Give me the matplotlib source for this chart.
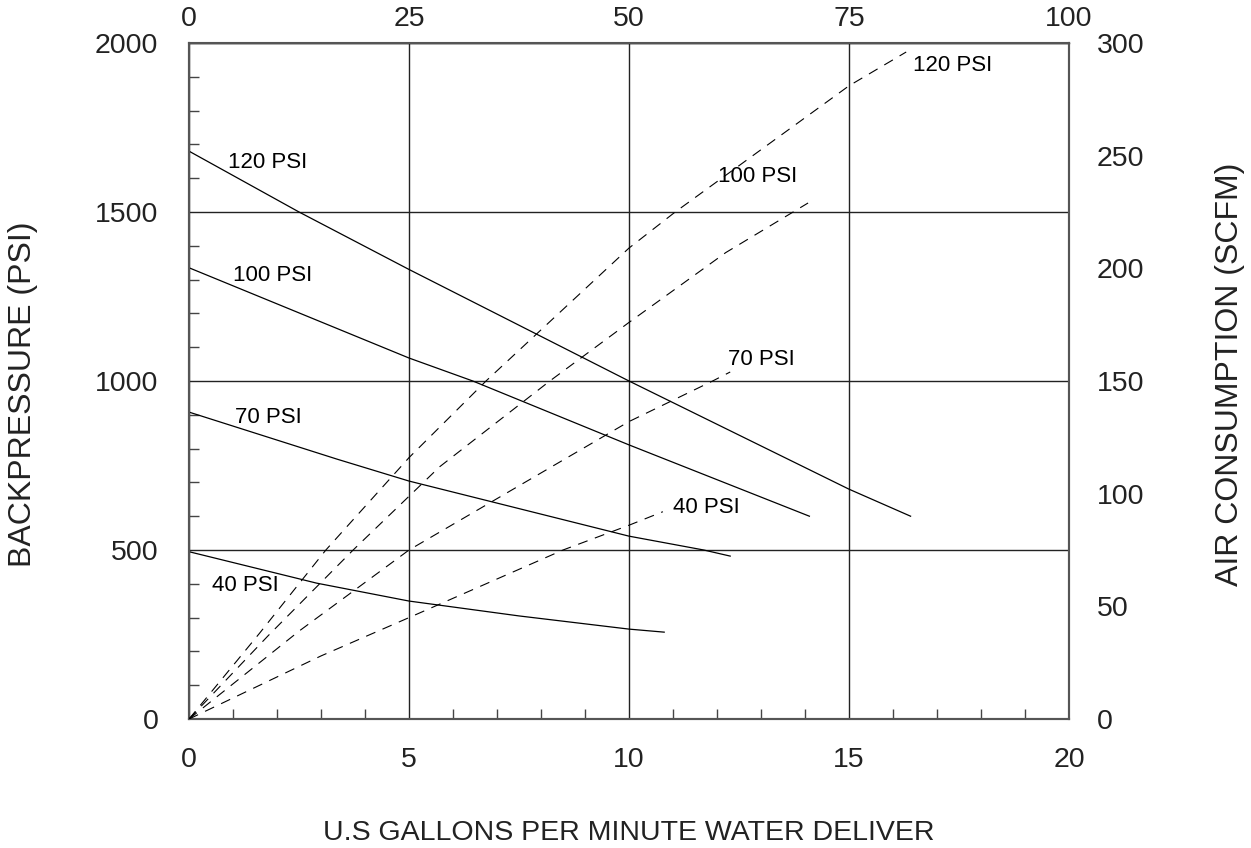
import matplotlib
matplotlib.use("Agg")
import matplotlib.pyplot as plt
from matplotlib.ticker import MultipleLocator

plt.rcParams['font.family'] = ['Liberation Sans', 'DejaVu Sans']

# Courbes de contre-pression (PSI) en fonction du débit (GPM)
bp_labels = ["120 PSI", "100 PSI", "70 PSI", "40 PSI"]
bp_gpm = [
    [0, 2.5, 5, 10, 15, 16.4],
    [0, 5, 6.45, 10, 14.1],
    [0, 3.36, 5, 10, 11.7, 12.3],
    [0, 2.9, 5, 7.5, 10, 10.8],
]
bp_psi = [
    [1680, 1500, 1330, 1000, 680, 600],
    [1335, 1068, 1000, 811, 600],
    [908, 769, 704, 541, 500, 482],
    [495, 402, 349, 305, 266, 257],
]

# Courbes de consommation d'air (SCFM) en fonction du débit (GPM)
air_labels = ["120 PSI", "100 PSI", "70 PSI", "40 PSI"]
air_gpm = [
    [0, 1.6, 3.11, 5, 6.75, 10, 11.05, 15, 16.3],
    [0, 1.8, 3.73, 5.7, 8.2, 10, 12.2, 14.07],
    [0, 2.5, 5, 10, 11.9, 12.3],
    [0, 3, 5, 8.5, 10, 10.77],
]
air_scfm = [
    [0, 38, 75, 116, 150, 209, 225, 281, 296],
    [0, 37, 75, 112, 150, 176, 207, 229],
    [0, 39, 75, 132, 150, 154],
    [0, 28, 45, 75, 86, 92],
]

# Positions des étiquettes (gpm, psi)
bp_label_pos = [(0.89, 1645), (1.0, 1311), (1.05, 893), (0.52, 396)]
air_label_pos = [(16.45, 1932), (12.02, 1604), (12.25, 1065), (11.0, 627)]

fig = plt.figure(figsize=(12.51, 8.48), dpi=100)
ax = fig.add_axes([0.1511, 0.1521, 0.7034, 0.7972])

for g, p in zip(bp_gpm, bp_psi):
    ax.plot(g, p, color='black', linewidth=0.9, zorder=3)

ax2 = ax.twinx()
for g, s in zip(air_gpm, air_scfm):
    ax2.plot(g, s, color='black', linewidth=0.8, linestyle=(0, (9, 7)), zorder=3)

for (x, y), t in zip(bp_label_pos, bp_labels):
    ax.text(x, y, t, fontsize=16, ha='left', va='center', zorder=4)
for (x, y), t in zip(air_label_pos, air_labels):
    ax.text(x, y, t, fontsize=16, ha='left', va='center', zorder=4)

ax.set_xlim(0, 20)
ax.set_ylim(0, 2000)
ax2.set_ylim(0, 300)

ax.set_xticks([0, 5, 10, 15, 20])
ax.set_yticks([0, 500, 1000, 1500, 2000])
ax.xaxis.set_minor_locator(MultipleLocator(1))
ax.yaxis.set_minor_locator(MultipleLocator(100))
ax.tick_params(axis='both', which='major', direction='in', length=0,
               labelsize=20.5, colors='#222222')
ax.tick_params(axis='x', which='major', pad=20)
ax.tick_params(axis='y', which='major', pad=22)
ax.tick_params(axis='both', which='minor', direction='in', length=7,
               width=1, color='#444444')

ax2.set_yticks([0, 50, 100, 150, 200, 250, 300])
ax2.tick_params(axis='y', length=0, labelsize=20.5, pad=20, colors='#222222')

top = ax.secondary_xaxis('top', functions=(lambda v: v * 5, lambda v: v / 5))
top.set_xticks([0, 25, 50, 75, 100])
top.tick_params(length=0, labelsize=20.5, pad=8, colors='#222222')

ax.grid(True, which='major', color='#222222', linewidth=1.0)
ax.set_axisbelow(True)

for a in (ax, ax2):
    for s in a.spines.values():
        s.set_color('#555555')
        s.set_linewidth(1.5)
ax.spines['top'].set_color('#222222')
ax.spines['top'].set_linewidth(1.0)
top.spines['top'].set_visible(False)

ax.set_ylabel("BACKPRESSURE (PSI)", fontsize=23, color='#222222')
ax.yaxis.set_label_coords(-0.172, 0.48)
ax2.set_ylabel("AIR CONSUMPTION (SCFM)", fontsize=23, color='#222222')
ax2.yaxis.set_label_coords(1.166, 0.51)
ax.set_xlabel("U.S GALLONS PER MINUTE WATER DELIVER", fontsize=20.5, color='#222222', labelpad=34)

fig.savefig("out.png", dpi=100)
